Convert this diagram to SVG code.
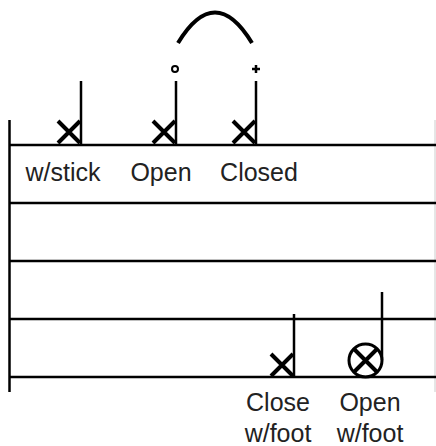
<svg xmlns="http://www.w3.org/2000/svg" width="436" height="446" viewBox="0 0 436 446">
<style>
.staff{stroke:#000;stroke-width:2.5;fill:none}
.stem{stroke:#000;stroke-width:2.5;fill:none}
.xh{stroke:#000;stroke-width:4;fill:none}
.lbl{font-family:"Liberation Sans",Arial,sans-serif;font-size:25px;fill:#222;text-anchor:middle}
</style>
<rect width="436" height="446" fill="#fff"/>
<g id="staff">
<line class="staff" x1="9.5" y1="120" x2="9.5" y2="392"/>
<line x1="435" y1="120" x2="435" y2="392" stroke="#ccc" stroke-width="1"/>
<line class="staff" x1="9" y1="145" x2="436" y2="145"/>
<line class="staff" x1="9" y1="203" x2="436" y2="203"/>
<line class="staff" x1="9" y1="261" x2="436" y2="261"/>
<line class="staff" x1="9" y1="319" x2="436" y2="319"/>
<line class="staff" x1="9" y1="377" x2="436" y2="377"/>
</g>
<g id="connectors">
<path d="M178,43 Q215,-18 252,43" stroke="#000" stroke-width="4" fill="none"/>
</g>
<g id="note-stick">
<line class="stem" x1="81" y1="81" x2="81" y2="145"/>
<path class="xh" d="M58,121 L80,143 M80,121 L58,143"/>
<text class="lbl" x="63" y="181">w/stick</text>
</g>
<g id="note-open">
<circle cx="175" cy="69" r="3" stroke="#000" stroke-width="2" fill="none"/>
<line class="stem" x1="176" y1="81" x2="176" y2="145"/>
<path class="xh" d="M153,121 L175,143 M175,121 L153,143"/>
<text class="lbl" x="161" y="181">Open</text>
</g>
<g id="note-closed">
<path d="M256,65 V73 M252,69 H260" stroke="#000" stroke-width="2.5"/>
<line class="stem" x1="256" y1="81" x2="256" y2="145"/>
<path class="xh" d="M233,121 L255,143 M255,121 L233,143"/>
<text class="lbl" x="259" y="181">Closed</text>
</g>
<g id="note-close-foot">
<line class="stem" x1="294" y1="314" x2="294" y2="377"/>
<path class="xh" d="M271,354 L293,376 M293,354 L271,376"/>
<text class="lbl" x="278" y="411">Close</text>
<text class="lbl" x="278" y="442">w/foot</text>
</g>
<g id="note-open-foot">
<line class="stem" x1="382" y1="292" x2="382" y2="360"/>
<circle cx="365.5" cy="360.5" r="16.5" stroke="#000" stroke-width="3" fill="none"/>
<path class="xh" d="M354,349 L377,372 M377,349 L354,372"/>
<text class="lbl" x="370" y="411">Open</text>
<text class="lbl" x="370" y="442">w/foot</text>
</g>
</svg>
